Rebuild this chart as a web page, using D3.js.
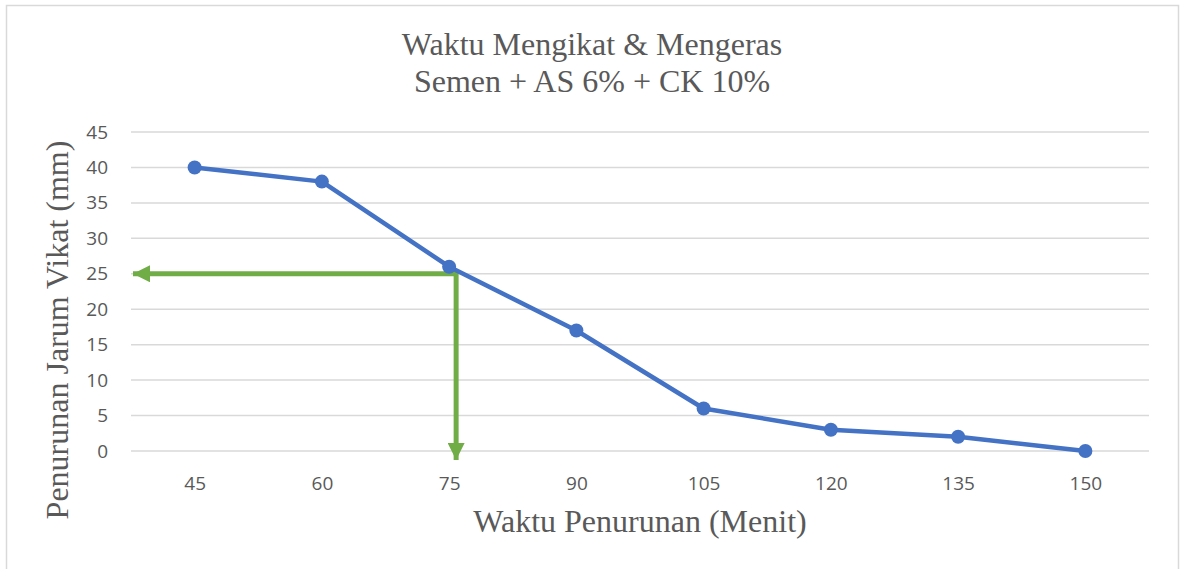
<!DOCTYPE html>
<html>
<head>
<meta charset="utf-8">
<script src="https://cdn.jsdelivr.net/npm/d3@7"></script>
<style>
  body { margin: 0; background: #fff; }
  svg { display: block; }
</style>
</head>
<body>
<div id="viz"></div>
<script>
// data
let minutes = ['45', '60', '75', '90', '105', '120', '135', '150'];
let penetration = [40, 38, 26, 17, 6, 3, 2, 0];
let yTicks = [0, 5, 10, 15, 20, 25, 30, 35, 40, 45];
let titleLines = ['Waktu Mengikat & Mengeras', 'Semen + AS 6% + CK 10%'];
let targetDepth = 25, targetMinute = '75';

let width = 1184, height = 569;
let plotLeft = 131, plotRight = 1149, plotTop = 132, plotBottom = 451;

let svg = d3.select('#viz').append('svg')
    .attr('width', width)
    .attr('height', height);

// chart frame
svg.append('rect')
    .attr('x', 6.5).attr('y', 5.5)
    .attr('width', 1172).attr('height', 580)
    .attr('fill', '#fff')
    .attr('stroke', '#d9d9d9')
    .attr('stroke-width', 1.5);

let xScale = d3.scalePoint()
    .domain(minutes)
    .range([plotLeft, plotRight])
    .padding(0.5);
let yScale = d3.scaleLinear()
    .domain([0, 45])
    .range([plotBottom, plotTop]);

// gridlines
svg.append('g')
  .selectAll('line').data(yTicks)
  .enter().append('line')
    .attr('x1', plotLeft).attr('x2', plotRight)
    .attr('y1', d => yScale(d)).attr('y2', d => yScale(d))
    .attr('stroke', '#d9d9d9')
    .attr('stroke-width', 1.5);

let yAxis = svg.append('g')
    .attr('transform', 'translate(' + (plotLeft - 23) + ',0)')
    .call(d3.axisLeft(yScale).tickValues(yTicks).tickSize(0).tickPadding(0));
let xAxis = svg.append('g')
    .attr('transform', 'translate(0,490)')
    .call(d3.axisBottom(xScale).tickSize(0).tickPadding(0));
xAxis.selectAll('text').attr('y', 0).attr('dy', 0);

[yAxis, xAxis].forEach(function(a) {
  a.select('.domain').remove();
  a.selectAll('text')
    .attr('fill', '#595959')
    .style('font-family', '"Open Sans", Carlito, sans-serif')
    .style('font-size', '19px');
});

// annotation arrows
let green = '#70ad47';
let defs = svg.append('defs');
defs.append('marker')
    .attr('id', 'head')
    .attr('viewBox', '0 0 10 10')
    .attr('refX', 10).attr('refY', 5)
    .attr('markerUnits', 'userSpaceOnUse')
    .attr('markerWidth', 17).attr('markerHeight', 17)
    .attr('orient', 'auto')
  .append('path')
    .attr('d', 'M0,0L10,5L0,10Z')
    .attr('fill', green);

let ax = xScale(targetMinute) + 7, ay = yScale(targetDepth);
svg.append('line')
    .attr('x1', ax).attr('y1', ay)
    .attr('x2', plotLeft + 2).attr('y2', ay)
    .attr('stroke', green).attr('stroke-width', 5)
    .attr('marker-end', 'url(#head)');
svg.append('line')
    .attr('x1', ax).attr('y1', ay - 2.5)
    .attr('x2', ax).attr('y2', plotBottom + 9)
    .attr('stroke', green).attr('stroke-width', 5)
    .attr('marker-end', 'url(#head)');

// series
let line = d3.line()
    .x((d, i) => xScale(minutes[i]))
    .y(d => yScale(d));
svg.append('path')
    .datum(penetration)
    .attr('d', line)
    .attr('fill', 'none')
    .attr('stroke', '#4472c4')
    .attr('stroke-width', 4.5)
    .attr('stroke-linejoin', 'round');
svg.append('g')
  .selectAll('circle').data(penetration)
  .enter().append('circle')
    .attr('cx', (d, i) => xScale(minutes[i]))
    .attr('cy', d => yScale(d))
    .attr('r', 7)
    .attr('fill', '#4472c4');

// titles
let serif = '"Liberation Serif", "DejaVu Serif", serif';
svg.append('g').selectAll('text').data(titleLines)
  .enter().append('text')
    .attr('x', 592)
    .attr('y', (d, i) => 55 + i * 37)
    .attr('text-anchor', 'middle')
    .attr('fill', '#595959')
    .style('font-family', serif)
    .style('font-size', '32px')
    .text(d => d);

svg.append('text')
    .attr('x', 640).attr('y', 532)
    .attr('text-anchor', 'middle')
    .attr('fill', '#595959')
    .style('font-family', serif)
    .style('font-size', '32px')
    .text('Waktu Penurunan (Menit)');

svg.append('text')
    .attr('transform', 'translate(68,330) rotate(-90)')
    .attr('text-anchor', 'middle')
    .attr('fill', '#595959')
    .style('font-family', serif)
    .style('font-size', '32px')
    .text('Penurunan Jarum Vikat (mm)');
</script>
</body>
</html>
